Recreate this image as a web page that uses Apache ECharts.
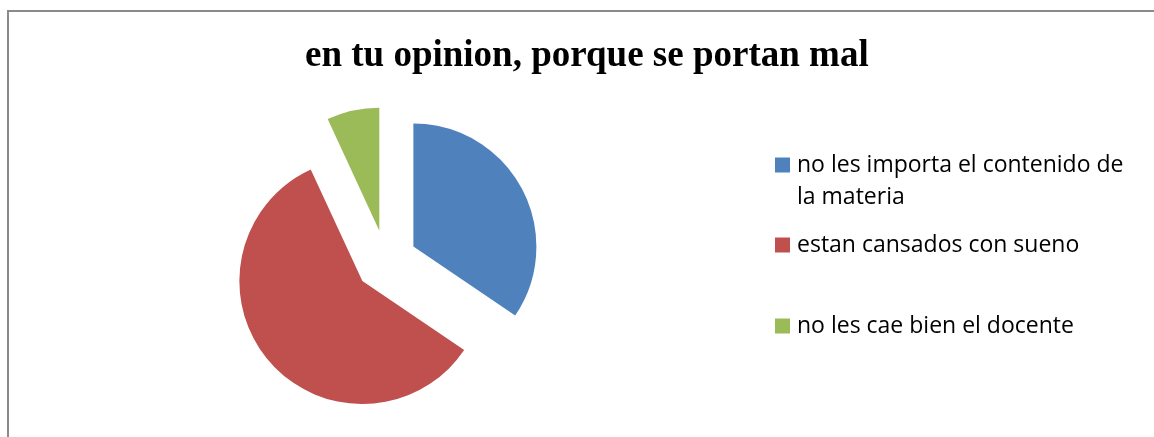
<!DOCTYPE html>
<html>
<head>
<meta charset="utf-8">
<script src="https://cdn.jsdelivr.net/npm/echarts@6/dist/echarts.min.js"></script>
<style>
  html, body { margin: 0; padding: 0; background: #fff; }
  #main { width: 1154px; height: 437px; }
</style>
</head>
<body>
<div id="main"></div>
<script>
var titleText = 'en tu opinion, porque se portan mal';
var categories = [
  'no les importa el contenido de la materia',
  'estan cansados con sueno',
  'no les cae bien el docente'
];
var values = [10, 17, 2];
var colors = ['#4F81BD', '#C0504D', '#9BBB59'];

var chart = echarts.init(document.getElementById('main'), null, { renderer: 'canvas' });

var pieData = categories.map(function (name, i) {
  return { name: name, value: values[i], selected: true, itemStyle: { color: colors[i] } };
});

// one legend per item so the spacing matches the original
var legendTops = [117, 229, 310];
var legends = categories.map(function (name, i) {
  return {
    data: [name],
    left: 775,
    top: legendTops[i],
    padding: 0,
    icon: 'rect',
    itemWidth: 15,
    itemHeight: 15,
    selectedMode: false,
    formatter: function (n) {
      // first label wraps on two lines; leading empty line keeps the icon on line one
      if (n === categories[0]) return '\nno les importa el contenido de\nla materia';
      return n;
    },
    textStyle: {
      fontFamily: 'Open Sans',
      fontSize: 23,
      color: '#000',
      lineHeight: 32,
      padding: [0, 0, 0, 2]
    }
  };
});

var option = {
  backgroundColor: '#fff',
  animation: false,
  title: {
    text: titleText,
    left: 300,
    top: 33,
    textStyle: {
      fontFamily: 'Liberation Serif',
      fontWeight: 'bold',
      fontSize: 37,
      color: '#000'
    }
  },
  legend: legends,
  graphic: [{
    type: 'rect',
    shape: { x: 8, y: 11, width: 1200, height: 500 },
    style: { fill: 'none', stroke: '#8a8a8a', lineWidth: 2 },
    silent: true
  }],
  series: [{
    type: 'pie',
    center: [386, 261],
    radius: 123,
    startAngle: 90,
    clockwise: true,
    selectedMode: 'multiple',
    selectedOffset: 31,
    label: { show: false },
    labelLine: { show: false },
    emphasis: { disabled: true },
    data: pieData
  }]
};

chart.setOption(option);
</script>
</body>
</html>
